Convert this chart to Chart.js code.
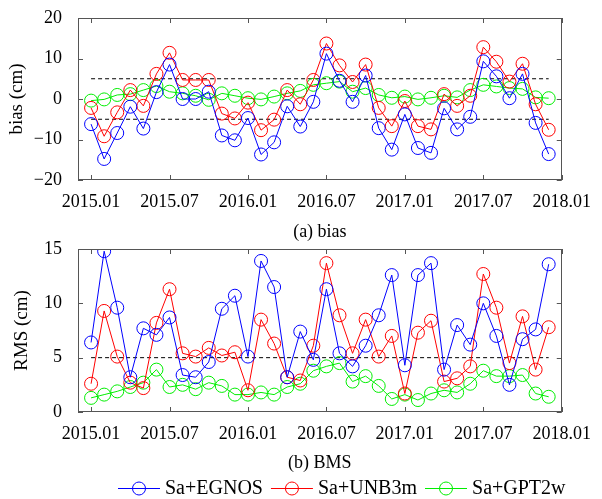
<!DOCTYPE html>
<html>
<head>
<meta charset="utf-8">
<script src="https://cdn.jsdelivr.net/npm/chart.js@4.4.0/dist/chart.umd.min.js"></script>
<style>
  body { margin: 0; background: #fff; }
  #wrap { position: relative; width: 602px; height: 499px; overflow: hidden; }
  #biasWrap { position: absolute; left: 0; top: -12px; width: 602px; height: 256px; }
  #rmsWrap { position: absolute; left: 0; top: 219px; width: 602px; height: 280px; }
</style>
</head>
<body>
<div id="wrap">
  <div id="biasWrap"><canvas id="biasChart"></canvas></div>
  <div id="rmsWrap"><canvas id="rmsChart"></canvas></div>
</div>
<script>
// monthly values, 2015.01 .. 2017.12
const tickLabels = ["2015.01", "2015.07", "2016.01", "2016.07", "2017.01", "2017.07", "2018.01"];
const seriesNames = ["Sa+EGNOS", "Sa+UNB3m", "Sa+GPT2w"];

const biasEgnos = [-6.2, -14.8, -8.4, -1.9, -7.3, 1.7, 8.5, 0.0, 0.0, 1.8, -9.0, -10.2,
    -4.7, -13.7, -10.7, -1.8, -6.8, -0.7, 11.2, 4.5, -0.7, 5.8, -7.2, -12.5,
    -3.8, -12.1, -13.3, -2.3, -7.5, -4.4, 9.3, 5.6, 0.2, 6.2, -5.9, -13.6];
const biasUnb3m = [-2.2, -9.2, -3.3, 2.2, -1.7, 6.2, 11.4, 4.7, 4.7, 4.7, -3.6, -4.8,
    -0.9, -7.7, -5.1, 2.2, -1.3, 4.7, 13.7, 8.3, 4.2, 8.5, -2.2, -6.7,
    -0.5, -6.7, -7.5, 1.2, -1.7, 0.8, 12.8, 9.2, 4.3, 8.7, -1.3, -7.6];
const biasGpt2w = [-0.4, -0.1, 1.0, 1.2, 2.2, 3.2, 1.8, 1.4, 0.8, -0.2, 1.4, 0.8,
    0.2, -0.1, 0.6, 1.4, 2.0, 3.5, 3.9, 4.3, 1.8, 2.7, 1.0, 0.3,
    0.6, -0.1, 0.3, 0.8, 0.4, 2.2, 3.5, 3.1, 2.7, 2.5, 0.4, 0.2];

const rmsEgnos = [6.4, 14.8, 9.6, 3.2, 7.7, 7.1, 8.7, 3.4, 3.2, 4.6, 9.5, 10.7,
    5.1, 13.9, 11.5, 3.2, 7.4, 4.8, 11.3, 5.4, 4.2, 6.1, 8.9, 12.6,
    4.3, 12.6, 13.7, 3.9, 8.0, 6.2, 10.0, 7.0, 2.5, 6.7, 7.6, 13.6];
const rmsUnb3m = [2.6, 9.3, 5.1, 2.7, 2.2, 8.2, 11.3, 5.4, 5.1, 5.9, 5.2, 5.5,
    2.0, 8.5, 6.3, 3.2, 2.9, 6.1, 13.7, 8.9, 5.4, 8.5, 5.1, 7.0,
    1.7, 7.3, 8.4, 2.8, 3.1, 4.2, 12.7, 9.6, 4.5, 8.8, 3.9, 7.8];
const rmsGpt2w = [1.3, 1.6, 1.9, 2.3, 2.7, 3.9, 2.3, 2.5, 2.1, 2.7, 2.4, 1.6,
    1.6, 1.8, 1.6, 2.3, 2.6, 3.8, 4.2, 4.5, 2.8, 3.3, 2.4, 1.2,
    1.6, 1.1, 1.7, 2.0, 1.8, 2.6, 3.8, 3.3, 3.3, 3.4, 1.7, 1.4];

const biasTicks = [-20, -10, 0, 10, 20];
const rmsTicks = [0, 5, 10, 15];
const biasLimits = [-5, 5];
const rmsLimits = [5];

const colors = ["#0000ff", "#ff0000", "#00ee00"];
const FONT = "'Liberation Serif', 'DejaVu Serif', serif";

// turn a value list into {x: month index, y}
function toPoints(values) {
    return values.map((v, i) => ({ x: i, y: v }));
}

function seriesSet(lists) {
    return lists.map((vals, i) => ({
        label: seriesNames[i],
        data: toPoints(vals),
        borderColor: colors[i],
        backgroundColor: "transparent",
        borderWidth: 1,
        pointRadius: 6.5,
        pointHoverRadius: 6.5,
        pointBorderWidth: 1,
        pointBackgroundColor: "transparent",
        pointBorderColor: colors[i],
        tension: 0
    }));
}

function limitSet(limits, n) {
    return limits.map(v => ({
        label: "",
        data: [{ x: 0, y: v }, { x: n - 1, y: v }],
        borderColor: "#000",
        borderWidth: 1,
        borderDash: [4, 3],
        pointRadius: 0
    }));
}

// box round the plot and inward tick marks, gnuplot style
const framePlugin = {
    id: "frame",
    afterDraw(chart) {
        const { ctx, chartArea: a, scales } = chart;
        const len = 5;
        ctx.save();
        ctx.strokeStyle = "#555";
        ctx.lineWidth = 1;
        ctx.strokeRect(Math.round(a.left) + 0.5, Math.round(a.top) + 0.5,
            Math.round(a.width) - 1, Math.round(a.height) - 1);
        ctx.beginPath();
        scales.x.ticks.forEach(t => {
            const px = Math.round(scales.x.getPixelForValue(t.value)) + 0.5;
            ctx.moveTo(px, a.bottom); ctx.lineTo(px, a.bottom - len);
            ctx.moveTo(px, a.top); ctx.lineTo(px, a.top + len);
        });
        scales.y.ticks.forEach(t => {
            const py = Math.round(scales.y.getPixelForValue(t.value)) + 0.5;
            ctx.moveTo(a.left, py); ctx.lineTo(a.left + len, py);
            ctx.moveTo(a.right, py); ctx.lineTo(a.right - len, py);
        });
        ctx.stroke();
        ctx.restore();
    }
};

// legend row under the lower plot: line + circle, then the name
const legendPlugin = {
    id: "lineLegend",
    afterDraw(chart) {
        const ctx = chart.ctx;
        const y = chart.height - 11;
        let x = 118;
        ctx.save();
        ctx.font = "20px " + FONT;
        ctx.textBaseline = "middle";
        ctx.lineWidth = 1;
        chart.data.datasets.filter(ds => ds.label !== "").forEach(ds => {
            ctx.strokeStyle = ds.borderColor;
            ctx.beginPath();
            ctx.moveTo(x, y + 0.5); ctx.lineTo(x + 42, y + 0.5);
            ctx.stroke();
            ctx.beginPath();
            ctx.arc(x + 21, y + 0.5, 6.5, 0, Math.PI * 2);
            ctx.stroke();
            x += 47;
            ctx.fillStyle = "#000";
            ctx.fillText(ds.label, x, y + 1);
            x += ctx.measureText(ds.label).width + 8;
        });
        ctx.restore();
    }
};

function makeOptions(yTicks, yTitle, yTitlePad, xTitle, xHeight, xTickPad, xTitlePad, pad) {
    return {
        responsive: true,
        maintainAspectRatio: false,
        animation: false,
        layout: { padding: pad },
        plugins: {
            legend: { display: false },
            tooltip: { enabled: false }
        },
        scales: {
            x: {
                type: "linear",
                min: -1,
                max: 36,
                afterBuildTicks: s => { s.ticks = tickLabels.map((_, i) => ({ value: i * 6 })); },
                afterFit: s => { s.height = xHeight; },
                grid: { display: false, drawTicks: false },
                border: { display: false },
                ticks: {
                    autoSkip: false,
                    maxRotation: 0,
                    padding: xTickPad,
                    color: "#000",
                    font: { family: FONT, size: 18 },
                    callback: v => tickLabels[v / 6]
                },
                title: {
                    display: true,
                    text: xTitle,
                    color: "#000",
                    padding: { top: 0, bottom: xTitlePad },
                    font: { family: FONT, size: 18 }
                }
            },
            y: {
                min: yTicks[0],
                max: yTicks[yTicks.length - 1],
                afterBuildTicks: s => { s.ticks = yTicks.map(v => ({ value: v })); },
                afterFit: s => { s.width = 78; },
                grid: { display: false, drawTicks: false },
                border: { display: false },
                ticks: {
                    padding: 16,
                    color: "#000",
                    font: { family: FONT, size: 18 },
                    callback: v => String(v).replace("-", "\u2212")
                },
                title: {
                    display: true,
                    text: yTitle,
                    color: "#000",
                    padding: { top: yTitlePad, bottom: 0 },
                    font: { family: FONT, size: 19 }
                }
            }
        }
    };
}

new Chart(document.getElementById("biasChart"), {
    type: "line",
    data: {
        datasets: seriesSet([biasEgnos, biasUnb3m, biasGpt2w])
            .concat(limitSet(biasLimits, biasEgnos.length))
    },
    options: makeOptions(biasTicks, "bias (cm)", 6, "(a) bias", 64, 11, 1,
        { left: 0, right: 32, top: 30, bottom: 0 }),
    plugins: [framePlugin]
});

new Chart(document.getElementById("rmsChart"), {
    type: "line",
    data: {
        datasets: seriesSet([rmsEgnos, rmsUnb3m, rmsGpt2w])
            .concat(limitSet(rmsLimits, rmsEgnos.length))
    },
    options: makeOptions(rmsTicks, "RMS (cm)", 11, "(b) BMS", 65, 11, 3,
        { left: 0, right: 32, top: 30, bottom: 22 }),
    plugins: [framePlugin, legendPlugin]
});
</script>
</body>
</html>
